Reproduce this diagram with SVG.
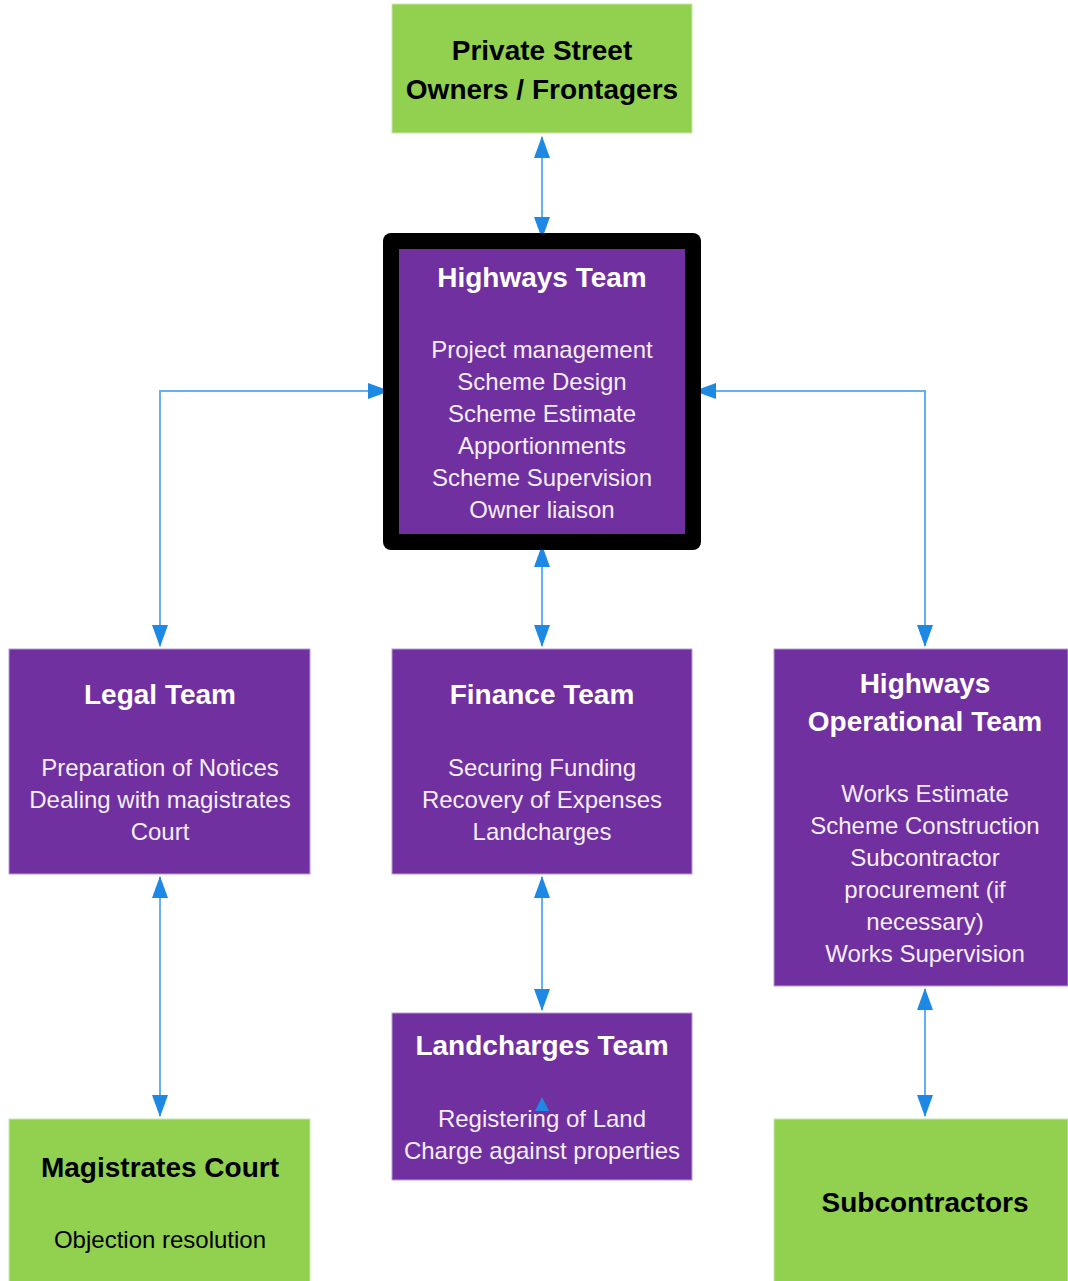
<svg xmlns="http://www.w3.org/2000/svg" width="1068" height="1281" viewBox="0 0 1068 1281">
<style>
.green{fill:#92D050;stroke:#C9E8A8;stroke-width:1}
.purple{fill:#7030A0;stroke:#B89CD0;stroke-width:1}
.t{font-family:"Liberation Sans",Arial,sans-serif;text-anchor:middle}
.tb{font-weight:bold;font-size:28px}
.w{fill:#FFFFFF}
.k{fill:#000000}
.b{font-size:24px;fill:#F4EEF8}
.bk{font-size:24px;fill:#000}
.c{fill:none;stroke:#64B0F2;stroke-width:2}
</style>
<defs>
<marker id="ah" viewBox="0 0 22 16" refX="21" refY="8" markerWidth="22" markerHeight="16" markerUnits="userSpaceOnUse" orient="auto-start-reverse">
<path d="M0,0 L22,8 L0,16 Z" fill="#1E88E5"/>
</marker>
</defs>
<g id="connectors">
<path class="c" d="M542,137 L542,238" marker-start="url(#ah)" marker-end="url(#ah)"/>
<path class="c" d="M160,646 L160,391 L389,391" marker-start="url(#ah)" marker-end="url(#ah)"/>
<path class="c" d="M925,646 L925,391 L695,391" marker-start="url(#ah)" marker-end="url(#ah)"/>
<path class="c" d="M542,546 L542,646" marker-start="url(#ah)" marker-end="url(#ah)"/>
<path class="c" d="M160,877 L160,1116" marker-start="url(#ah)" marker-end="url(#ah)"/>
<path class="c" d="M542,877 L542,1010" marker-start="url(#ah)" marker-end="url(#ah)"/>
<path class="c" d="M925,989 L925,1116" marker-start="url(#ah)" marker-end="url(#ah)"/>
</g>
<g id="private-street">
<rect class="green" x="392" y="4" width="300" height="129"/>
<text class="t tb k" x="542" y="60">Private Street</text>
<text class="t tb k" x="542" y="99">Owners / Frontagers</text>
</g>
<g id="highways-team">
<rect x="383" y="233" width="318" height="317" rx="8" fill="#000"/>
<rect x="399" y="249" width="286" height="285" fill="#7030A0"/>
<text class="t tb w" x="542" y="287">Highways Team</text>
<text class="t b" x="542" y="358">Project management</text>
<text class="t b" x="542" y="390">Scheme Design</text>
<text class="t b" x="542" y="422">Scheme Estimate</text>
<text class="t b" x="542" y="454">Apportionments</text>
<text class="t b" x="542" y="486">Scheme Supervision</text>
<text class="t b" x="542" y="518">Owner liaison</text>
</g>
<g id="legal-team">
<rect class="purple" x="9" y="649" width="301" height="225"/>
<text class="t tb w" x="160" y="704">Legal Team</text>
<text class="t b" x="160" y="776">Preparation of Notices</text>
<text class="t b" x="160" y="808">Dealing with magistrates</text>
<text class="t b" x="160" y="840">Court</text>
</g>
<g id="finance-team">
<rect class="purple" x="392" y="649" width="300" height="225"/>
<text class="t tb w" x="542" y="704">Finance Team</text>
<text class="t b" x="542" y="776">Securing Funding</text>
<text class="t b" x="542" y="808">Recovery of Expenses</text>
<text class="t b" x="542" y="840">Landcharges</text>
</g>
<g id="highways-operational-team">
<rect class="purple" x="774" y="649" width="294" height="337"/>
<text class="t tb w" x="925" y="693">Highways</text>
<text class="t tb w" x="925" y="731">Operational Team</text>
<text class="t b" x="925" y="802">Works Estimate</text>
<text class="t b" x="925" y="834">Scheme Construction</text>
<text class="t b" x="925" y="866">Subcontractor</text>
<text class="t b" x="925" y="898">procurement (if</text>
<text class="t b" x="925" y="930">necessary)</text>
<text class="t b" x="925" y="962">Works Supervision</text>
</g>
<g id="landcharges-team">
<rect class="purple" x="392" y="1013" width="300" height="167"/>
<text class="t tb w" x="542" y="1055">Landcharges Team</text>
<path d="M535,1111 L542,1097 L549,1111 Z" fill="#1E88E5"/>
<text class="t b" x="542" y="1127">Registering of Land</text>
<text class="t b" x="542" y="1159">Charge against properties</text>
</g>
<g id="magistrates-court">
<rect class="green" x="9" y="1119" width="301" height="163"/>
<text class="t tb k" x="160" y="1177">Magistrates Court</text>
<text class="t bk" x="160" y="1248">Objection resolution</text>
</g>
<g id="subcontractors">
<rect class="green" x="774" y="1119" width="294" height="163"/>
<text class="t tb k" x="925" y="1212">Subcontractors</text>
</g>
</svg>
